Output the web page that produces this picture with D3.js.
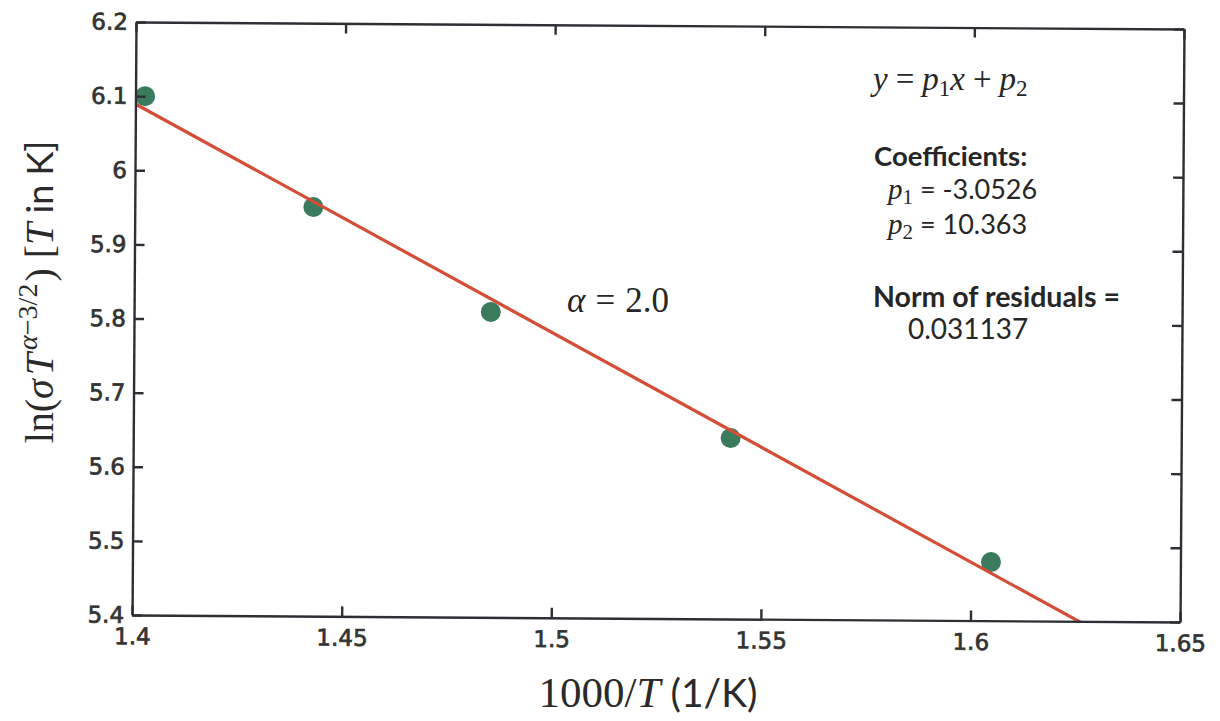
<!DOCTYPE html>
<html>
<head>
<meta charset="utf-8">
<script src="https://cdn.jsdelivr.net/npm/d3@7"></script>
<style>
  body { margin: 0; background: #fff; }
  svg { display: block; }
</style>
</head>
<body>
<svg id="chart" width="1220" height="721"></svg>
<script>
// Measured data: 1000/T (1/K) against ln(sigma * T^(alpha-3/2))
const invT     = [1.4023, 1.4426, 1.4851, 1.5425, 1.6048];
const lnSigma  = [6.100, 5.952, 5.812, 5.644, 5.479];

// Linear fit y = p1*x + p2
const fitP1 = -3.0526;
const fitP2 = 10.363;
const fitP1Text = "-3.0526";
const fitP2Text = "10.363";
const residualNorm = "0.031137";
const alphaText = "2.0";

// Axis ticks
const xTickVals   = [1.4, 1.45, 1.5, 1.55, 1.6, 1.65];
const xTickLabels = ["1.4", "1.45", "1.5", "1.55", "1.6", "1.65"];
const yTickVals   = [5.4, 5.5, 5.6, 5.7, 5.8, 5.9, 6.0, 6.1, 6.2];
const yTickLabels = ["5.4", "5.5", "5.6", "5.7", "5.8", "5.9", "6", "6.1", "6.2"];

const svg = d3.select("#chart");
const plot = { left: 136, top: 22, width: 1048, height: 593 };

const x = d3.scaleLinear().domain([1.4, 1.65]).range([0, plot.width]);
const y = d3.scaleLinear().domain([5.4, 6.2]).range([plot.height, 0]);

const axisColor = "#2e2e34";
const serif = "'Liberation Serif', 'DejaVu Serif', serif";
const sans = "Lato, 'Open Sans', sans-serif";

const g = svg.append("g")
  .attr("transform", `translate(${plot.left},${plot.top}) rotate(0.38)`);

g.append("defs").append("clipPath").attr("id", "plot-clip")
  .append("rect").attr("width", plot.width).attr("height", plot.height);

// Markers
g.append("g").selectAll("circle")
  .data(invT.map((v, i) => [v, lnSigma[i]]))
  .join("circle")
  .attr("cx", d => x(d[0]))
  .attr("cy", d => y(d[1]))
  .attr("r", 10)
  .attr("fill", "#3a7b5e");

// Fitted line, clipped to the axes box
const fitX = x.domain();
g.append("path")
  .attr("clip-path", "url(#plot-clip)")
  .datum(fitX.map(v => [v, fitP1 * v + fitP2]))
  .attr("d", d3.line().x(d => x(d[0])).y(d => y(d[1])))
  .attr("fill", "none")
  .attr("stroke", "#d44d36")
  .attr("stroke-width", 3.2);

function styleAxis(sel) {
  sel.select(".domain").attr("stroke", axisColor).attr("stroke-width", 2.4);
  sel.selectAll(".tick line").attr("stroke", axisColor).attr("stroke-width", 2.4);
  sel.selectAll(".tick text")
    .attr("fill", "#333")
    .attr("stroke", "#333")
    .attr("stroke-width", 0.7)
    .style("font-family", "'DejaVu Sans', Verdana, sans-serif")
    .style("font-size", "23px");
}

const fmtX = d => xTickLabels[xTickVals.indexOf(d)];
const fmtY = d => yTickLabels[yTickVals.indexOf(d)];

g.append("g")
  .attr("transform", `translate(0,${plot.height})`)
  .call(d3.axisBottom(x).tickValues(xTickVals).tickFormat(fmtX)
        .tickSizeInner(-10).tickSizeOuter(0).tickPadding(13))
  .call(styleAxis);

g.append("g")
  .call(d3.axisTop(x).tickValues(xTickVals).tickFormat("")
        .tickSizeInner(-10).tickSizeOuter(0))
  .call(styleAxis);

g.append("g")
  .call(d3.axisLeft(y).tickValues(yTickVals).tickFormat(fmtY)
        .tickSizeInner(-10).tickSizeOuter(0).tickPadding(8))
  .call(styleAxis);

g.append("g")
  .attr("transform", `translate(${plot.width},0)`)
  .call(d3.axisRight(y).tickValues(yTickVals).tickFormat("")
        .tickSizeInner(-10).tickSizeOuter(0))
  .call(styleAxis);

g.selectAll(".domain").raise();

// Axis titles
const xt = svg.append("text")
  .attr("x", 648).attr("y", 707)
  .attr("text-anchor", "middle")
  .attr("fill", "#2a2a2a")
  .style("font-family", serif).style("font-size", "43px");
xt.append("tspan").text("1000/");
xt.append("tspan").style("font-style", "italic").text("T");
xt.append("tspan").style("font-family", sans).style("font-size", "39px").text(" (1/K)");

const yt = svg.append("text")
  .attr("transform", "translate(53,292) rotate(-90)")
  .attr("text-anchor", "middle")
  .attr("fill", "#2a2a2a")
  .style("font-family", serif).style("font-size", "40px");
yt.append("tspan").text("ln(");
yt.append("tspan").style("font-style", "italic").text("σ");
yt.append("tspan").attr("dx", 4).style("font-style", "italic").text("T");
yt.append("tspan").attr("dy", -16).attr("dx", 3).style("font-size", "28px").style("font-style", "italic").text("α");
yt.append("tspan").style("font-size", "28px").text("−3/2");
yt.append("tspan").attr("dy", 16).attr("dx", 2).text(")   [");
yt.append("tspan").style("font-style", "italic").text("T");
yt.append("tspan").style("font-family", sans).style("font-size", "36px").text(" in K]");

// Fit annotations
const ink = "#262626";
const eq = svg.append("text").attr("x", 873).attr("y", 90)
  .attr("fill", ink).style("font-family", serif).style("font-size", "33px");
eq.append("tspan").style("font-style", "italic").text("y");
eq.append("tspan").attr("dx", 8).text("=");
eq.append("tspan").attr("dx", 8).style("font-style", "italic").text("p");
eq.append("tspan").attr("dy", 6).style("font-size", "23px").text("1");
eq.append("tspan").attr("dy", -6).style("font-style", "italic").text("x");
eq.append("tspan").attr("dx", 8).text("+");
eq.append("tspan").attr("dx", 8).style("font-style", "italic").text("p");
eq.append("tspan").attr("dy", 6).style("font-size", "23px").text("2");

svg.append("text").attr("x", 874).attr("y", 166)
  .attr("fill", ink).style("font-family", sans).style("font-weight", "bold")
  .style("font-size", "27.5px").text("Coefficients:");

function coefLine(yPos, sub, val) {
  const t = svg.append("text").attr("x", 888).attr("y", yPos)
    .attr("fill", ink).style("font-family", serif).style("font-size", "29px");
  t.append("tspan").style("font-style", "italic").text("p");
  t.append("tspan").attr("dy", 5).style("font-size", "21px").text(sub);
  t.append("tspan").attr("dy", -5).style("font-family", sans).style("font-size", "27px").text(" = " + val);
}
coefLine(199, "1", fitP1Text);
coefLine(234, "2", fitP2Text);

svg.append("text").attr("x", 873).attr("y", 307)
  .attr("fill", ink).style("font-family", sans).style("font-weight", "bold")
  .style("font-size", "28.5px").text("Norm of residuals =");
svg.append("text").attr("x", 908).attr("y", 339)
  .attr("fill", ink).style("font-family", sans)
  .style("font-size", "28px").text(residualNorm);

const al = svg.append("text").attr("x", 567).attr("y", 312)
  .attr("fill", ink).style("font-family", serif).style("font-size", "35px");
al.append("tspan").style("font-style", "italic").text("α");
al.append("tspan").attr("dx", 10).text("=");
al.append("tspan").attr("dx", 10).text(alphaText);
</script>
</body>
</html>
